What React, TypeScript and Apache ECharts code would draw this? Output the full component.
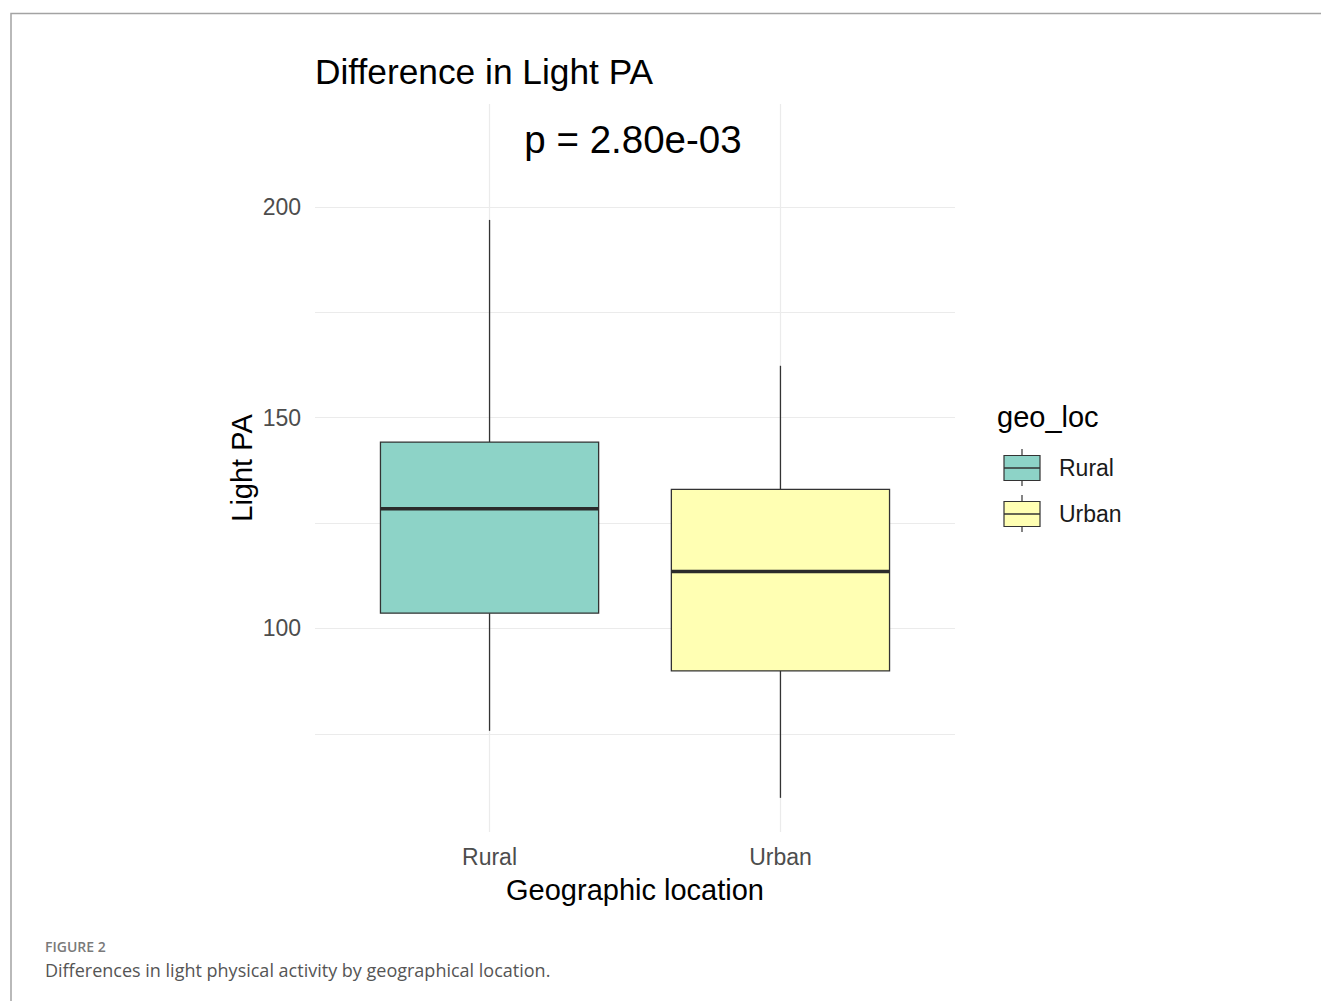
import React, { useEffect, useRef } from "react";
import * as echarts from "echarts";

// Light physical activity by geographic location (box summaries)
const categories = ["Rural", "Urban"];
const lowerWhisker = [75.7, 59.8];
const q1 = [103.6, 89.9];
const median = [128.4, 113.5];
const q3 = [144.2, 133.0];
const upperWhisker = [196.9, 162.3];
const fills = ["#8dd3c7", "#ffffb3"];

const yLabelTicks = [100, 150, 200];
const yGridTicks = [75, 100, 125, 150, 175, 200];
const pValueText = "p = 2.80e-03";

const FONT = "'Liberation Sans', Arial, sans-serif";
const CAPTION_FONT = "'Open Sans', Lato, sans-serif";

export default function App() {
  const ref = useRef<HTMLDivElement>(null);

  useEffect(() => {
    document.body.style.margin = "0";
    if (!ref.current) return;
    const chart = echarts.init(ref.current, null, { renderer: "svg" });

    const boxData = categories.map((_, i) => [
      i + 1,
      lowerWhisker[i],
      q1[i],
      median[i],
      q3[i],
      upperWhisker[i],
    ]);

    const halfWidth = 0.375;
    const stroke = "#333333";

    const legendX = 1004;
    const legendRows = [468, 514];

    const legendGraphics: any[] = [
      {
        type: "text",
        x: 997,
        y: 417,
        style: {
          text: "geo_loc",
          font: `29px ${FONT}`,
          fill: "#000000",
          verticalAlign: "middle",
        },
      },
    ];
    categories.forEach((c, i) => {
      const cy = legendRows[i];
      legendGraphics.push(
        {
          type: "line",
          shape: { x1: legendX + 18, y1: cy - 19, x2: legendX + 18, y2: cy + 18 },
          style: { stroke, lineWidth: 1.2 },
        },
        {
          type: "rect",
          shape: { x: legendX, y: cy - 12.5, width: 36, height: 25 },
          style: { fill: fills[i], stroke, lineWidth: 1.2 },
        },
        {
          type: "line",
          shape: { x1: legendX, y1: cy, x2: legendX + 36, y2: cy },
          style: { stroke, lineWidth: 1.6 },
        },
        {
          type: "text",
          x: 1059,
          y: cy,
          style: {
            text: c,
            font: `23px ${FONT}`,
            fill: "#1a1a1a",
            verticalAlign: "middle",
          },
        }
      );
    });

    chart.setOption({
      animation: false,
      backgroundColor: "#ffffff",
      title: {
        text: "Difference in Light PA",
        left: 315,
        top: 54,
        padding: 0,
        textStyle: {
          fontFamily: FONT,
          fontSize: 35.3,
          fontWeight: "normal",
          color: "#000000",
        },
      },
      grid: {
        left: 315,
        right: 367,
        top: 104,
        bottom: 169,
        containLabel: false,
      },
      xAxis: {
        type: "value",
        min: 0.4,
        max: 2.6,
        name: "Geographic location",
        nameLocation: "middle",
        nameGap: 43,
        nameTextStyle: { fontFamily: FONT, fontSize: 29, color: "#000000" },
        axisLine: { show: false },
        axisTick: { show: false, customValues: [1, 2] },
        axisLabel: {
          customValues: [1, 2],
          margin: 13,
          fontFamily: FONT,
          fontSize: 23,
          color: "#4d4d4d",
          formatter: (v: number) => categories[Math.round(v) - 1] ?? "",
        },
        splitLine: { show: true, lineStyle: { color: "#ebebeb", width: 1.2 } },
      },
      yAxis: {
        type: "value",
        min: 51.7,
        max: 224.4,
        name: "Light PA",
        nameLocation: "middle",
        nameGap: 59,
        nameTextStyle: { fontFamily: FONT, fontSize: 29, color: "#000000" },
        axisLine: { show: false },
        axisTick: { show: false, customValues: yGridTicks },
        axisLabel: {
          customValues: yLabelTicks,
          margin: 14,
          fontFamily: FONT,
          fontSize: 23,
          color: "#4d4d4d",
        },
        splitLine: { show: true, lineStyle: { color: "#ebebeb", width: 1.2 } },
      },
      series: [
        {
          type: "custom",
          name: "geo_loc",
          data: boxData,
          encode: { x: 0, y: [1, 2, 3, 4, 5] },
          renderItem: (params: any, api: any) => {
            const x = api.value(0);
            const lo = api.value(1);
            const b1 = api.value(2);
            const md = api.value(3);
            const b3 = api.value(4);
            const hi = api.value(5);
            const pLo = api.coord([x, lo]);
            const p1 = api.coord([x, b1]);
            const pMd = api.coord([x, md]);
            const p3 = api.coord([x, b3]);
            const pHi = api.coord([x, hi]);
            const left = api.coord([x - halfWidth, md])[0];
            const right = api.coord([x + halfWidth, md])[0];
            return {
              type: "group",
              children: [
                {
                  type: "line",
                  shape: { x1: pHi[0], y1: pHi[1], x2: p3[0], y2: p3[1] },
                  style: { stroke, lineWidth: 1.3 },
                },
                {
                  type: "line",
                  shape: { x1: p1[0], y1: p1[1], x2: pLo[0], y2: pLo[1] },
                  style: { stroke, lineWidth: 1.3 },
                },
                {
                  type: "rect",
                  shape: {
                    x: left,
                    y: p3[1],
                    width: right - left,
                    height: p1[1] - p3[1],
                  },
                  style: {
                    fill: fills[params.dataIndex],
                    stroke,
                    lineWidth: 1.3,
                  },
                },
                {
                  type: "line",
                  shape: { x1: left, y1: pMd[1], x2: right, y2: pMd[1] },
                  style: { stroke: "#2b2b2b", lineWidth: 3.5 },
                },
              ],
            };
          },
        },
      ],
      graphic: [
        {
          type: "polyline",
          shape: {
            points: [
              [11, 1001],
              [11, 13.5],
              [1321, 13.5],
            ],
          },
          style: { stroke: "#a3a3a3", lineWidth: 1.5, fill: null },
        },
        {
          type: "text",
          x: 633,
          y: 139,
          style: {
            text: pValueText,
            font: `38.5px ${FONT}`,
            fill: "#000000",
            align: "center",
            verticalAlign: "middle",
          },
        },
        ...legendGraphics,
        {
          type: "text",
          x: 45,
          y: 946,
          style: {
            text: "FIGURE 2",
            font: `600 14px ${CAPTION_FONT}`,
            fill: "#7a7a7a",
            verticalAlign: "middle",
          },
        },
        {
          type: "text",
          x: 45,
          y: 970,
          style: {
            text: "Differences in light physical activity by geographical location.",
            font: `18px ${CAPTION_FONT}`,
            fill: "#555555",
            verticalAlign: "middle",
          },
        },
      ],
    });

    return () => chart.dispose();
  }, []);

  return <div ref={ref} style={{ width: 1322, height: 1001 }} />;
}
